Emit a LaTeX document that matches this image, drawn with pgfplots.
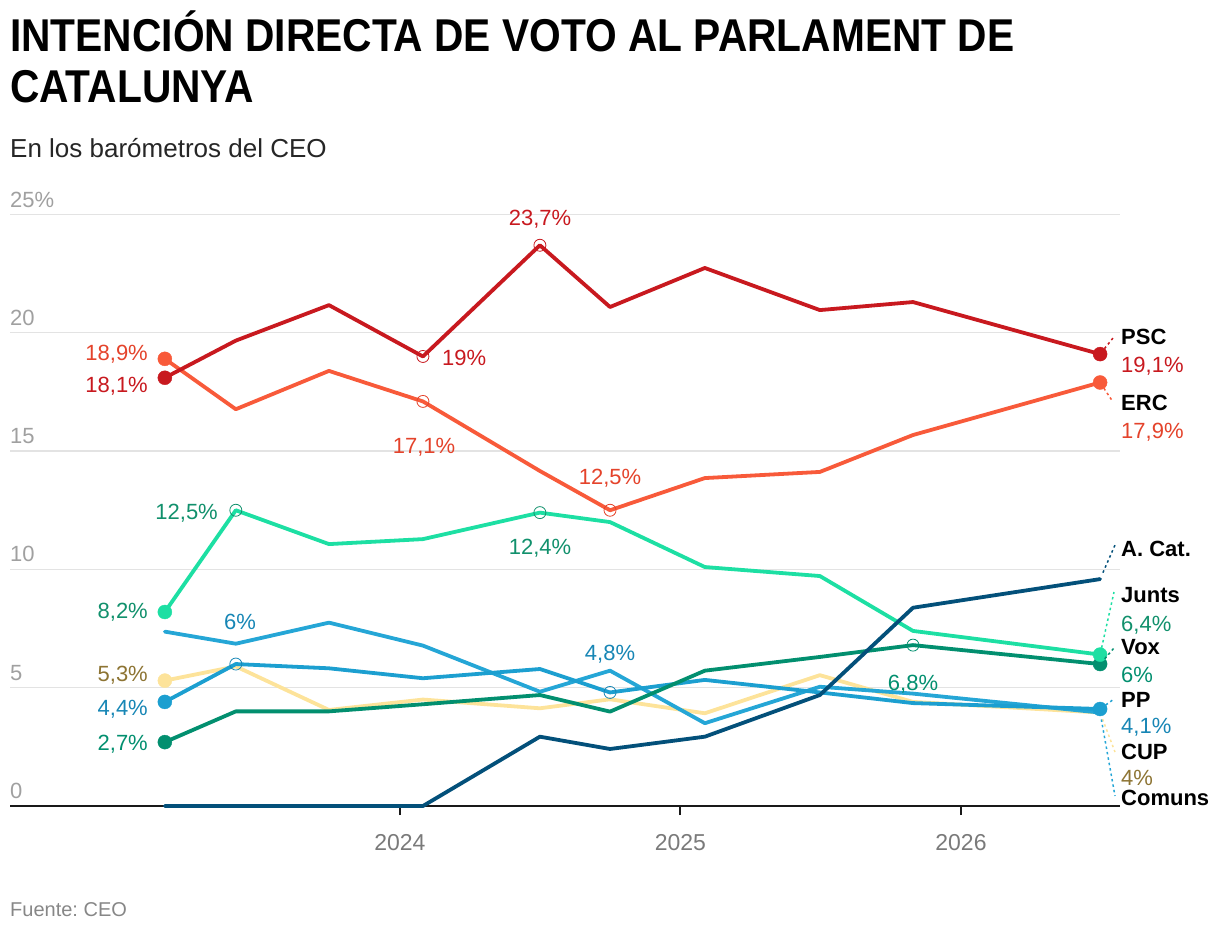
\documentclass[border=0pt]{standalone}
\usepackage{fontspec}
\setmainfont{Liberation Sans}
\newfontfamily\titlefont[FakeStretch=0.885]{Liberation Sans}
\usepackage{pgfplots}
\pgfplotsset{compat=1.18}
\definecolor{psc}{HTML}{C8191F}
\definecolor{erc}{HTML}{F85A3A}
\definecolor{ercl}{HTML}{E4432B}
\definecolor{junts}{HTML}{1DDFA3}
\definecolor{juntsl}{HTML}{11906C}
\definecolor{vox}{HTML}{028F6F}
\definecolor{pp}{HTML}{1C9FD0}
\definecolor{ppl}{HTML}{1786B5}
\definecolor{comuns}{HTML}{25A6D6}
\definecolor{cup}{HTML}{FDE39A}
\definecolor{cupl}{HTML}{8D7433}
\definecolor{acat}{HTML}{03507A}
\definecolor{gridc}{HTML}{E3E3E3}
\definecolor{ticklab}{HTML}{A0A0A0}
\definecolor{xlab}{HTML}{7A7A7A}
\frenchspacing
\begin{document}
\begin{tikzpicture}[x=1pt,y=1pt]
\path (0,0) rectangle (1220,-934);
% titles
\node[anchor=base west, inner sep=0, font=\titlefont\bfseries\fontsize{46}{50}\selectfont] at (10,-52) {INTENCIÓN DIRECTA DE VOTO AL PARLAMENT DE};
\node[anchor=base west, inner sep=0, font=\titlefont\bfseries\fontsize{46}{50}\selectfont] at (10,-102) {CATALUNYA};
\node[anchor=base west, inner sep=0, font=\fontsize{26}{30}\selectfont, text=black!85] at (10,-157) {En los barómetros del CEO};
\node[anchor=base west, inner sep=0, font=\fontsize{20}{24}\selectfont, text=xlab!90] at (10,-916) {Fuente: CEO};

\begin{axis}[
  at={(10pt,-806pt)}, anchor=south west,
  scale only axis, width=1110pt, height=591.5pt,
  xmin=2022.61, xmax=2026.567, ymin=0, ymax=25,
  axis x line*=bottom, axis y line*=left,
  y axis line style={draw=none},
  x axis line style={line width=2pt, black!90},
  ytick={0,5,10,15,20,25}, yticklabels={}, ytick style={draw=none},
  ymajorgrids, grid style={gridc, line width=1.3pt},
  xtick={2024,2025,2026}, xticklabels={2024,2025,2026},
  tick align=outside, major tick length=9pt,
  xtick style={black!90, line width=2pt},
  xticklabel style={font=\fontsize{23}{26}\selectfont, text=xlab, anchor=base, yshift=-35pt},
  clip=false,
  every axis plot/.append style={line join=round, line cap=round},
]
\addplot[cup, line width=3.8pt] coordinates {(2023.162,5.3) (2023.415,5.9) (2023.747,4.06) (2024.082,4.5) (2024.499,4.13) (2024.749,4.51) (2025.087,3.92) (2025.497,5.53) (2025.829,4.4) (2026.496,3.95)};
\addplot[comuns, line width=3.8pt] coordinates {(2023.162,7.37) (2023.415,6.86) (2023.747,7.75) (2024.082,6.78) (2024.499,4.83) (2024.749,5.72) (2025.087,3.5) (2025.497,5.04) (2025.829,4.75) (2026.496,3.95)};
\addplot[pp, line width=3.8pt] coordinates {(2023.162,4.4) (2023.415,6.0) (2023.747,5.82) (2024.082,5.4) (2024.499,5.79) (2024.749,4.8) (2025.087,5.33) (2025.497,4.8) (2025.829,4.35) (2026.496,4.1)};
\addplot[vox, line width=3.8pt] coordinates {(2023.162,2.7) (2023.415,4.0) (2023.747,4.0) (2024.082,4.3) (2024.499,4.69) (2024.749,3.99) (2025.087,5.72) (2025.497,6.3) (2025.829,6.8) (2026.496,6.0)};
\addplot[junts, line width=3.8pt] coordinates {(2023.162,8.2) (2023.415,12.5) (2023.747,11.07) (2024.082,11.28) (2024.499,12.4) (2024.749,12.0) (2025.087,10.1) (2025.497,9.72) (2025.829,7.4) (2026.496,6.4)};
\addplot[acat, line width=3.8pt] coordinates {(2023.162,0) (2023.415,0) (2023.747,0) (2024.082,0) (2024.499,2.93) (2024.749,2.41) (2025.087,2.93) (2025.497,4.69) (2025.829,8.38) (2026.496,9.59)};
\addplot[erc, line width=3.8pt] coordinates {(2023.162,18.9) (2023.415,16.77) (2023.747,18.39) (2024.082,17.1) (2024.499,14.16) (2024.749,12.5) (2025.087,13.86) (2025.497,14.12) (2025.829,15.68) (2026.496,17.9)};
\addplot[psc, line width=3.8pt] coordinates {(2023.162,18.1) (2023.415,19.67) (2023.747,21.17) (2024.082,19.0) (2024.499,23.7) (2024.749,21.09) (2025.087,22.74) (2025.497,20.96) (2025.829,21.3) (2026.496,19.1)};
% filled dots
\addplot[only marks, mark=*, mark size=7pt, cup] coordinates {(2023.162,5.3)};
\addplot[only marks, mark=*, mark size=7pt, pp] coordinates {(2023.162,4.4) (2026.496,4.1)};
\addplot[only marks, mark=*, mark size=7pt, vox] coordinates {(2023.162,2.7) (2026.496,6.0)};
\addplot[only marks, mark=*, mark size=7pt, junts] coordinates {(2023.162,8.2) (2026.496,6.4)};
\addplot[only marks, mark=*, mark size=7pt, erc] coordinates {(2023.162,18.9) (2026.496,17.9)};
\addplot[only marks, mark=*, mark size=7pt, psc] coordinates {(2023.162,18.1) (2026.496,19.1)};
% open circles
\addplot[only marks, mark=o, mark size=6pt, mark options={line width=0.8pt}, psc] coordinates {(2024.082,19.0) (2024.499,23.7)};
\addplot[only marks, mark=o, mark size=6pt, mark options={line width=0.8pt}, ercl] coordinates {(2024.082,17.1) (2024.749,12.5)};
\addplot[only marks, mark=o, mark size=6pt, mark options={line width=0.8pt}, juntsl] coordinates {(2023.415,12.5) (2024.499,12.4)};
\addplot[only marks, mark=o, mark size=6pt, mark options={line width=0.8pt}, ppl] coordinates {(2023.415,6.0) (2024.749,4.8)};
\addplot[only marks, mark=o, mark size=6pt, mark options={line width=0.8pt}, vox] coordinates {(2025.829,6.8)};
% end points for connectors
\coordinate (ePSC) at (axis cs:2026.496,19.1);
\coordinate (eERC) at (axis cs:2026.496,17.9);
\coordinate (eACAT) at (axis cs:2026.496,9.59);
\coordinate (eJUNTS) at (axis cs:2026.496,6.4);
\coordinate (eVOX) at (axis cs:2026.496,6.0);
\coordinate (ePP) at (axis cs:2026.496,4.1);
\coordinate (eCUP) at (axis cs:2026.496,3.95);
\coordinate (eCOM) at (axis cs:2026.496,3.95);
\end{axis}

% y tick labels
\begin{scope}[every node/.style={anchor=base west, inner sep=0, font=\fontsize{22}{24}\selectfont, text=ticklab}]
\node at (10,-207) {25\%};
\node at (10,-325.3) {20};
\node at (10,-443.6) {15};
\node at (10,-561.9) {10};
\node at (10,-680.2) {5};
\node at (10,-798.5) {0};
\end{scope}

% connectors
\begin{scope}[line width=1.5pt, dash pattern=on 2.5pt off 3pt, shorten <=7pt]
\draw[psc] (ePSC) -- (1113,-338);
\draw[erc] (eERC) -- (1113,-402);
\draw[acat] (eACAT) -- (1115,-545);
\draw[junts] (eJUNTS) -- (1114,-592);
\draw[vox] (eVOX) -- (1114,-648);
\draw[pp] (ePP) -- (1114,-699);
\draw[cup] (eCUP) -- (1115,-752);
\draw[comuns] (eCOM) -- (1115,-796);
\end{scope}

% data labels
\begin{scope}[every node/.style={inner sep=0, font=\fontsize{22}{24}\selectfont}]
\node[anchor=base east, text=ercl] at (148,-360) {18,9\%};
\node[anchor=base east, text=psc] at (148,-392) {18,1\%};
\node[anchor=base east, text=juntsl] at (148,-618) {8,2\%};
\node[anchor=base east, text=cupl] at (148,-681) {5,3\%};
\node[anchor=base east, text=ppl] at (148,-715) {4,4\%};
\node[anchor=base east, text=vox] at (148,-750) {2,7\%};
\node[anchor=base, text=psc] at (540,-225) {23,7\%};
\node[anchor=base west, text=psc] at (442,-365) {19\%};
\node[anchor=base, text=ercl] at (424,-453) {17,1\%};
\node[anchor=base, text=ercl] at (610,-484) {12,5\%};
\node[anchor=base east, text=juntsl] at (218,-519) {12,5\%};
\node[anchor=base, text=juntsl] at (540,-554) {12,4\%};
\node[anchor=base, text=ppl] at (240,-629) {6\%};
\node[anchor=base, text=ppl] at (610,-660) {4,8\%};
\node[anchor=base, text=vox] at (913,-690) {6,8\%};
% right labels
\node[anchor=base west, font=\bfseries\fontsize{22}{24}\selectfont] at (1121,-344) {PSC};
\node[anchor=base west, text=psc] at (1121,-372) {19,1\%};
\node[anchor=base west, font=\bfseries\fontsize{22}{24}\selectfont] at (1121,-410) {ERC};
\node[anchor=base west, text=ercl] at (1121,-438) {17,9\%};
\node[anchor=base west, font=\bfseries\fontsize{22}{24}\selectfont] at (1121,-556) {A. Cat.};
\node[anchor=base west, font=\bfseries\fontsize{22}{24}\selectfont] at (1121,-602) {Junts};
\node[anchor=base west, text=juntsl] at (1121,-631) {6,4\%};
\node[anchor=base west, font=\bfseries\fontsize{22}{24}\selectfont] at (1121,-654) {Vox};
\node[anchor=base west, text=vox] at (1121,-682) {6\%};
\node[anchor=base west, font=\bfseries\fontsize{22}{24}\selectfont] at (1121,-707) {PP};
\node[anchor=base west, text=ppl] at (1121,-733) {4,1\%};
\node[anchor=base west, font=\bfseries\fontsize{22}{24}\selectfont] at (1121,-759) {CUP};
\node[anchor=base west, text=cupl] at (1121,-785) {4\%};
\node[anchor=base west, font=\bfseries\fontsize{22}{24}\selectfont] at (1121,-805) {Comuns};
\end{scope}
\pgfresetboundingbox
\useasboundingbox (0,0) rectangle (1220,-934);
\end{tikzpicture}
\end{document}
